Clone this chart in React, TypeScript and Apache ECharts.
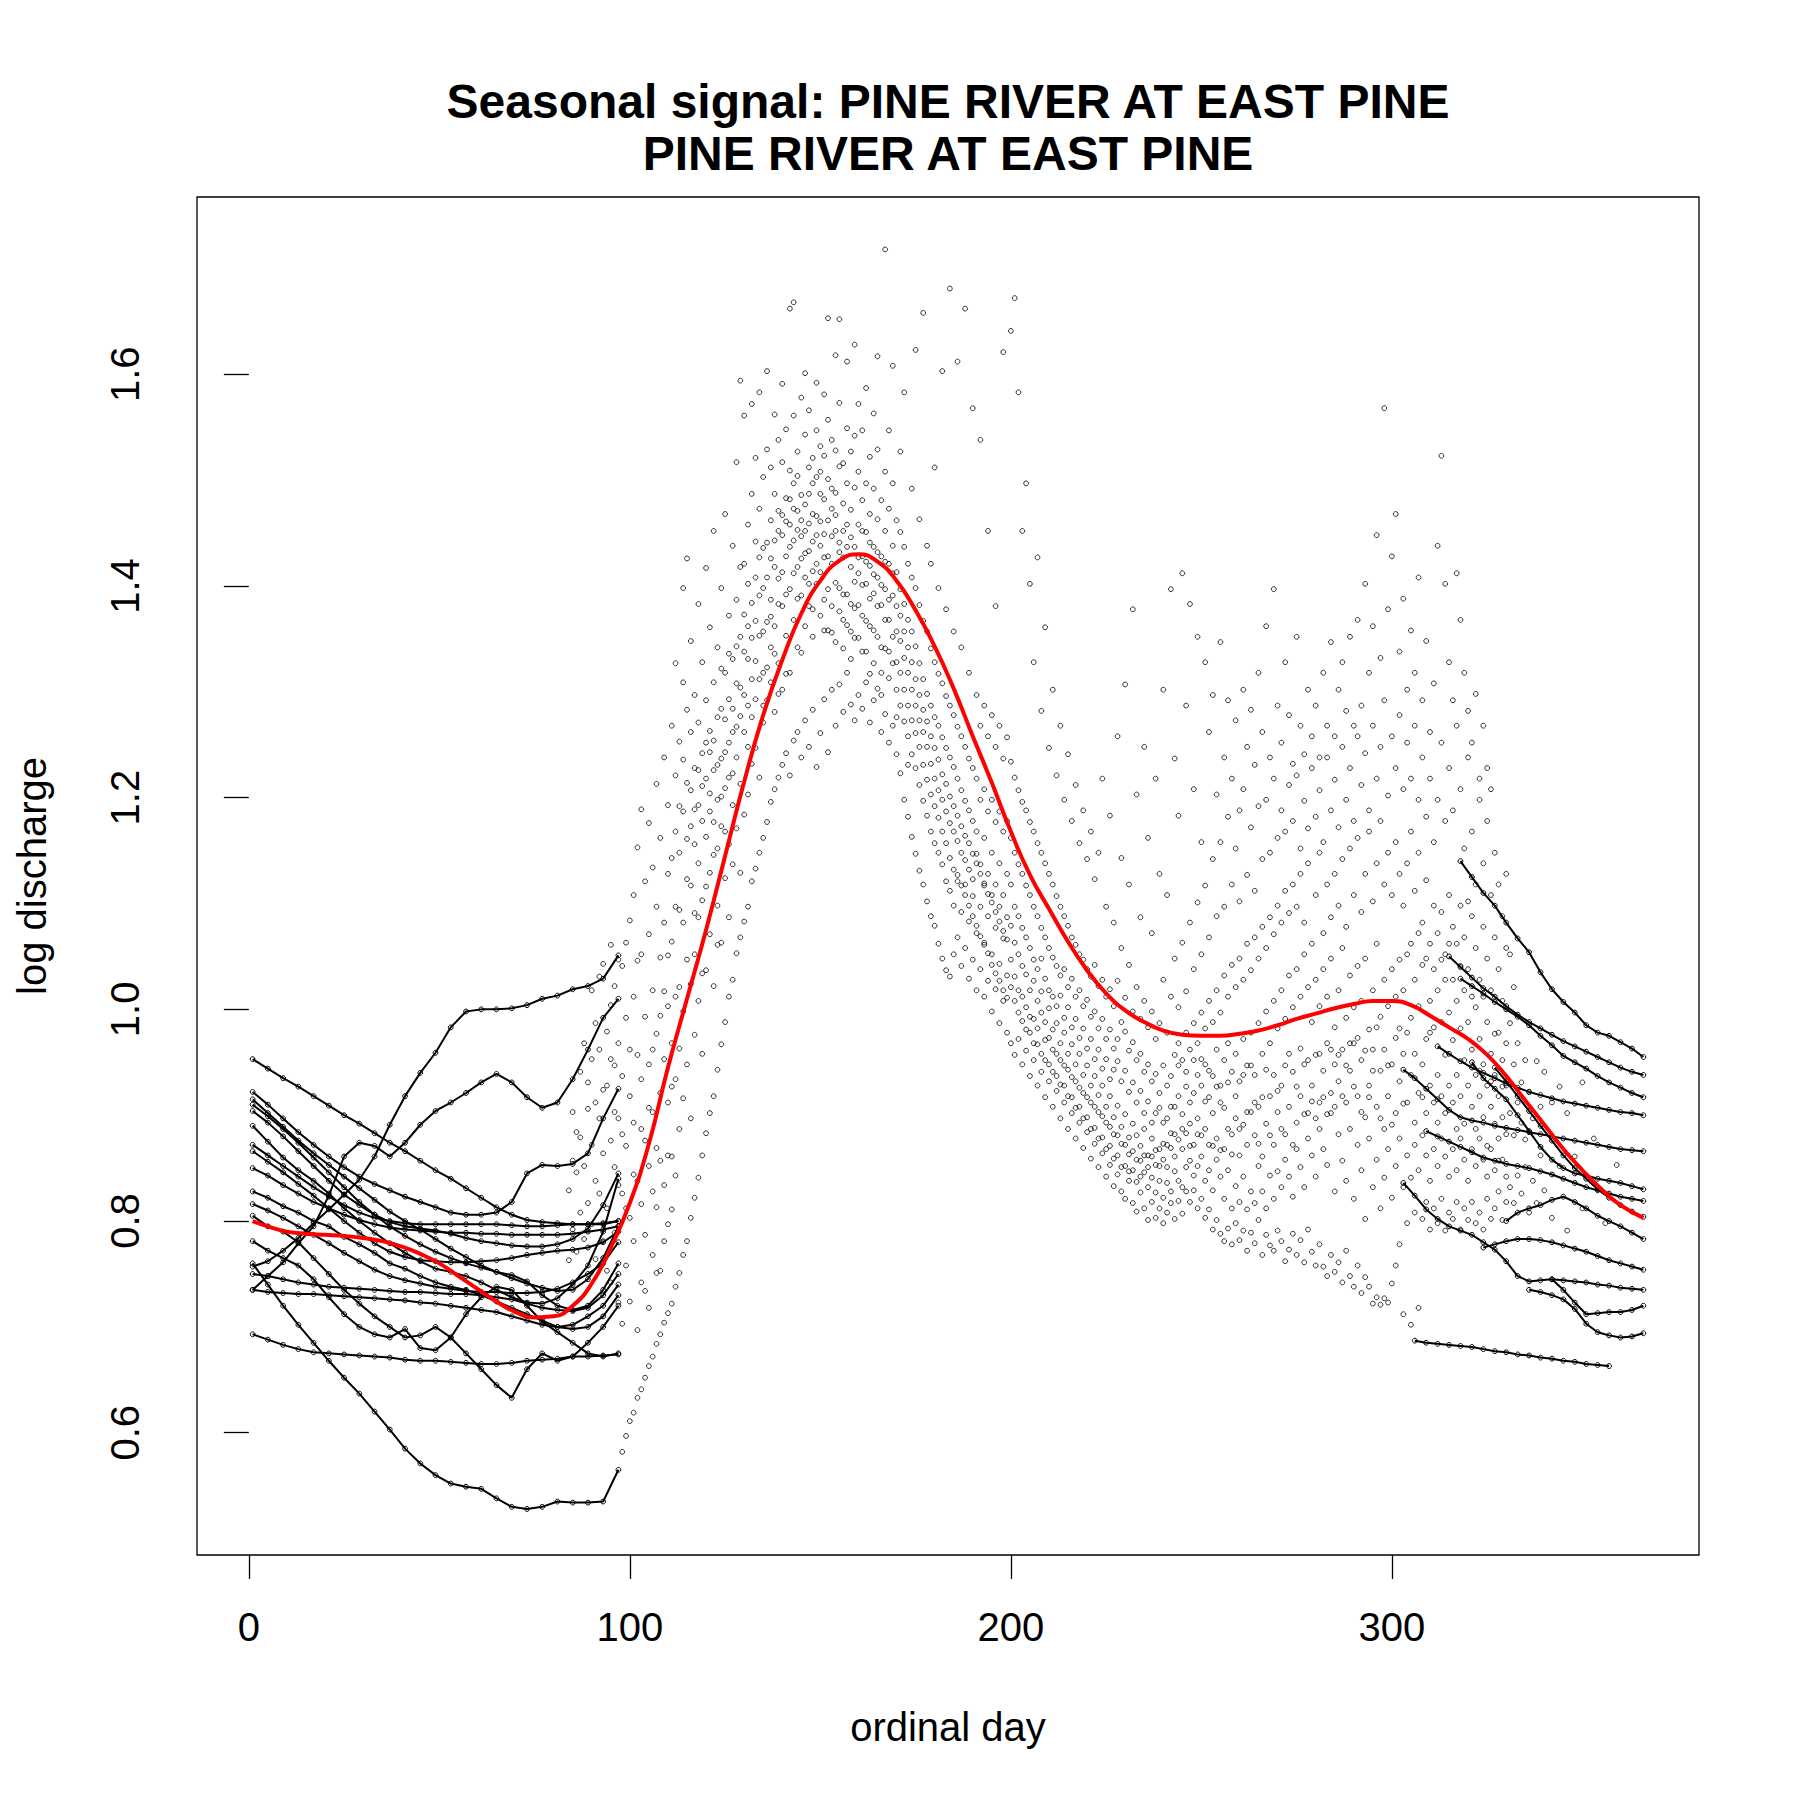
import { useEffect, useRef } from 'react';
import * as echarts from 'echarts';

const xTicks = [0, 100, 200, 300];
const yTicks = [0.6, 0.8, 1.0, 1.2, 1.4, 1.6];

// winter (low flow) traces, one per year, sampled every 4 days
const winterDays = [1, 5, 9, 13, 17, 21, 25, 29, 33, 37, 41, 45, 49, 53, 57, 61, 65, 69, 73, 77, 81, 85, 89, 93, 97];
const winterTracks: number[][] = [
  [0.953, 0.944, 0.935, 0.927, 0.918, 0.909, 0.900, 0.892, 0.883, 0.874, 0.866, 0.857, 0.848, 0.840, 0.831, 0.822, 0.813, 0.806, 0.801, 0.799, 0.798, 0.797, 0.797, 0.798, 0.800],
  [0.757, 0.762, 0.772, 0.784, 0.798, 0.811, 0.825, 0.839, 0.861, 0.891, 0.918, 0.940, 0.959, 0.983, 0.998, 1.000, 1.000, 1.001, 1.004, 1.010, 1.013, 1.019, 1.022, 1.029, 1.051],
  [0.735, 0.748, 0.761, 0.779, 0.795, 0.824, 0.861, 0.874, 0.871, 0.861, 0.874, 0.891, 0.904, 0.912, 0.921, 0.931, 0.939, 0.931, 0.917, 0.907, 0.912, 0.934, 0.962, 0.992, 1.010],
  [0.922, 0.910, 0.897, 0.884, 0.872, 0.861, 0.851, 0.842, 0.835, 0.829, 0.823, 0.818, 0.813, 0.808, 0.806, 0.806, 0.808, 0.818, 0.845, 0.853, 0.852, 0.854, 0.864, 0.897, 0.925],
  [0.915, 0.902, 0.889, 0.876, 0.864, 0.853, 0.842, 0.831, 0.820, 0.809, 0.800, 0.792, 0.783, 0.774, 0.766, 0.758, 0.752, 0.746, 0.741, 0.737, 0.734, 0.735, 0.745, 0.765, 0.795],
  [0.910, 0.899, 0.887, 0.874, 0.860, 0.846, 0.832, 0.818, 0.806, 0.795, 0.786, 0.778, 0.771, 0.765, 0.760, 0.756, 0.752, 0.749, 0.743, 0.730, 0.720, 0.716, 0.720, 0.735, 0.760],
  [0.904, 0.893, 0.880, 0.866, 0.852, 0.838, 0.825, 0.815, 0.806, 0.799, 0.795, 0.793, 0.791, 0.788, 0.784, 0.781, 0.779, 0.777, 0.776, 0.776, 0.778, 0.783, 0.793, 0.815, 0.845],
  [0.890, 0.875, 0.860, 0.848, 0.838, 0.826, 0.812, 0.800, 0.789, 0.779, 0.770, 0.762, 0.755, 0.752, 0.748, 0.742, 0.735, 0.728, 0.723, 0.722, 0.727, 0.740, 0.758, 0.790, 0.840],
  [0.872, 0.862, 0.852, 0.842, 0.832, 0.823, 0.815, 0.808, 0.803, 0.800, 0.798, 0.797, 0.797, 0.797, 0.797, 0.797, 0.797, 0.796, 0.795, 0.795, 0.796, 0.797, 0.797, 0.797, 0.800],
  [0.866, 0.856, 0.846, 0.835, 0.824, 0.812, 0.800, 0.789, 0.779, 0.771, 0.766, 0.763, 0.762, 0.761, 0.761, 0.762, 0.763, 0.765, 0.768, 0.770, 0.772, 0.773, 0.775, 0.780, 0.790],
  [0.850, 0.843, 0.834, 0.826, 0.818, 0.812, 0.806, 0.801, 0.797, 0.794, 0.792, 0.791, 0.790, 0.789, 0.789, 0.788, 0.788, 0.787, 0.787, 0.787, 0.787, 0.788, 0.790, 0.792, 0.795],
  [0.828, 0.822, 0.814, 0.808, 0.800, 0.795, 0.785, 0.778, 0.770, 0.760, 0.755, 0.748, 0.742, 0.738, 0.735, 0.730, 0.724, 0.718, 0.712, 0.706, 0.700, 0.698, 0.700, 0.710, 0.730],
  [0.816, 0.810, 0.803, 0.795, 0.787, 0.779, 0.770, 0.762, 0.754, 0.748, 0.744, 0.741, 0.738, 0.736, 0.734, 0.733, 0.733, 0.732, 0.732, 0.733, 0.736, 0.742, 0.750, 0.760, 0.780],
  [0.805, 0.795, 0.790, 0.780, 0.765, 0.750, 0.735, 0.722, 0.710, 0.700, 0.690, 0.692, 0.700, 0.690, 0.675, 0.660, 0.645, 0.633, 0.660, 0.675, 0.668, 0.672, 0.685, 0.700, 0.720],
  [0.781, 0.772, 0.765, 0.758, 0.745, 0.728, 0.712, 0.700, 0.693, 0.690, 0.698, 0.680, 0.678, 0.690, 0.712, 0.728, 0.738, 0.735, 0.720, 0.705, 0.695, 0.685, 0.675, 0.672, 0.675],
  [0.750, 0.748, 0.745, 0.742, 0.740, 0.738, 0.737, 0.736, 0.735, 0.734, 0.733, 0.733, 0.732, 0.731, 0.731, 0.730, 0.728, 0.726, 0.722, 0.718, 0.716, 0.715, 0.718, 0.730, 0.750],
  [0.735, 0.733, 0.732, 0.731, 0.731, 0.730, 0.729, 0.728, 0.727, 0.726, 0.725, 0.723, 0.722, 0.720, 0.718, 0.716, 0.714, 0.710, 0.706, 0.702, 0.700, 0.702, 0.710, 0.720, 0.740],
  [0.693, 0.688, 0.683, 0.679, 0.676, 0.675, 0.674, 0.673, 0.672, 0.671, 0.669, 0.668, 0.668, 0.667, 0.666, 0.665, 0.665, 0.666, 0.668, 0.669, 0.670, 0.672, 0.672, 0.673, 0.674],
  [0.760, 0.740, 0.720, 0.702, 0.685, 0.668, 0.652, 0.637, 0.620, 0.603, 0.585, 0.571, 0.560, 0.552, 0.549, 0.547, 0.538, 0.530, 0.528, 0.530, 0.535, 0.534, 0.534, 0.535, 0.565],
];

// autumn recession traces, sampled every 3 days (null = not yet a clean trace)
const fallDays = [300, 303, 306, 309, 312, 315, 318, 321, 324, 327, 330, 333, 336, 339, 342, 345, 348, 351, 354, 357, 360, 363, 366];
const fallTracks: (number | null)[][] = [
  [null, null, null, null, null, null, 1.14, 1.125, 1.11, 1.098, 1.082, 1.067, 1.054, 1.035, 1.019, 1.007, 0.997, 0.985, 0.978, 0.975, 0.969, 0.963, 0.955],
  [null, null, null, null, null, null, 1.029, 1.022, 1.015, 1.007, 1.000, 0.993, 0.985, 0.975, 0.966, 0.956, 0.950, 0.944, 0.937, 0.931, 0.926, 0.921, 0.917],
  [null, null, null, null, 0.965, 0.958, 0.951, 0.945, 0.940, 0.935, 0.930, 0.926, 0.922, 0.919, 0.916, 0.913, 0.911, 0.909, 0.907, 0.905, 0.903, 0.902, 0.900],
  [null, null, null, null, null, null, null, 0.950, 0.935, 0.925, 0.915, 0.900, 0.885, 0.870, 0.858, 0.850, 0.845, 0.843, 0.840, 0.838, 0.836, 0.833, 0.830],
  [null, 0.943, 0.935, 0.925, 0.915, 0.905, 0.898, 0.895, 0.893, 0.890, 0.888, 0.886, 0.884, 0.882, 0.880, 0.878, 0.876, 0.874, 0.872, 0.870, 0.868, 0.867, 0.866],
  [null, null, null, 0.885, 0.880, 0.875, 0.870, 0.865, 0.860, 0.857, 0.854, 0.852, 0.850, 0.847, 0.844, 0.840, 0.836, 0.832, 0.829, 0.826, 0.823, 0.821, 0.819],
  [null, 0.836, 0.824, 0.811, 0.802, 0.795, 0.791, 0.787, 0.780, 0.773, 0.762, 0.748, 0.743, 0.744, 0.745, 0.744, 0.743, 0.742, 0.740, 0.739, 0.737, 0.736, 0.735],
  [null, null, null, null, null, null, null, null, 0.775, 0.778, 0.781, 0.783, 0.783, 0.782, 0.780, 0.777, 0.774, 0.771, 0.767, 0.763, 0.760, 0.757, 0.754],
  [null, null, null, null, null, null, null, null, null, null, 0.800, 0.808, 0.812, 0.815, 0.820, 0.823, 0.818, 0.812, 0.805, 0.800, 0.795, 0.789, 0.783],
  [null, null, null, null, null, null, null, null, null, 0.945, 0.932, 0.918, 0.904, 0.890, 0.876, 0.862, 0.850, 0.840, 0.830, 0.822, 0.815, 0.809, 0.804],
  [null, null, null, null, null, null, null, null, null, null, null, null, 0.735, 0.733, 0.730, 0.726, 0.717, 0.703, 0.695, 0.692, 0.690, 0.691, 0.694],
  [null, null, null, null, null, null, null, null, null, null, null, null, null, null, 0.745, 0.735, 0.723, 0.712, 0.713, 0.714, 0.714, 0.716, 0.720],
  [null, null, 0.687, 0.685, 0.684, 0.683, 0.682, 0.681, 0.679, 0.677, 0.676, 0.674, 0.673, 0.671, 0.670, 0.668, 0.667, 0.665, 0.664, 0.663, null, null, null],
  [null, null, null, null, null, 1.05, 1.04, 1.03, 1.02, 1.012, 1.003, 0.995, 0.988, 0.982, 0.976, 0.970, 0.965, 0.960, 0.955, 0.950, 0.945, 0.941, 0.938],
];

// freshet / summer scatter: [day, value, value, ...]
const cloudRows: number[][] = [
  [84, 0.763, 0.829], [85, 0.792, 0.857, 0.903], [86, 0.771, 0.846, 0.884], [87, 0.808, 0.879, 0.941],
  [88, 0.783, 0.852, 0.968], [89, 0.817, 0.906, 0.931], [90, 0.797, 0.872, 0.953, 1.018], [91, 0.764, 0.838, 0.987, 0.912],
  [92, 0.826, 0.897, 0.962, 1.031], [93, 0.781, 0.864, 1.043, 0.924], [94, 0.812, 0.928, 0.979, 0.753],
  [95, 0.742, 0.876, 1.004, 1.061, 0.953], [96, 0.789, 0.851, 0.947, 1.022, 0.903], [97, 0.723, 0.834, 0.897, 1.047, 0.968],
  [98, 0.582, 0.703, 0.826, 0.937, 1.041, 0.882], [99, 0.597, 0.758, 0.871, 0.992, 1.063, 0.812],
  [100, 0.611, 0.724, 0.803, 0.918, 1.084, 0.962], [101, 0.619, 0.781, 0.893, 1.012, 1.108, 0.844],
  [102, 0.633, 0.697, 0.838, 0.957, 1.153, 1.046], [103, 0.641, 0.742, 0.816, 0.934, 1.052, 1.189, 0.887],
  [104, 0.652, 0.787, 0.876, 0.993, 1.121, 0.734], [105, 0.663, 0.718, 0.852, 0.948, 1.071, 1.176, 0.907],
  [106, 0.672, 0.768, 0.903, 1.018, 1.134, 0.828, 0.962], [107, 0.684, 0.813, 0.869, 0.977, 1.097, 1.213, 0.751],
  [108, 0.693, 0.753, 0.921, 1.049, 1.162, 0.857, 0.994], [109, 0.704, 0.834, 0.953, 1.082, 1.238, 0.781, 1.017],
  [110, 0.713, 0.797, 0.912, 1.003, 1.128, 1.193, 0.862, 1.051], [111, 0.722, 0.861, 0.968, 1.064, 1.268, 0.811, 1.143, 0.927],
  [112, 0.738, 0.843, 0.934, 1.097, 1.221, 1.327, 1.012, 1.168], [113, 0.751, 0.887, 1.021, 1.148, 1.253, 0.963, 1.094, 1.192],
  [114, 0.768, 0.916, 1.082, 1.187, 1.309, 1.398, 0.998, 1.236], [115, 0.781, 0.948, 1.047, 1.214, 1.283, 1.426, 1.123, 1.161],
  [116, 0.803, 0.897, 1.117, 1.173, 1.262, 1.348, 1.024, 1.207], [117, 0.822, 0.976, 1.091, 1.228, 1.297, 1.156, 1.052, 1.189],
  [118, 0.841, 1.008, 1.138, 1.193, 1.271, 1.383, 1.226, 1.087], [119, 0.862, 0.958, 1.103, 1.242, 1.328, 1.178, 1.211, 1.034],
  [120, 0.883, 1.037, 1.163, 1.218, 1.292, 1.417, 1.252, 1.116], [121, 0.902, 1.071, 1.129, 1.204, 1.263, 1.361, 1.187, 1.243],
  [122, 0.918, 1.022, 1.177, 1.254, 1.309, 1.452, 1.226, 1.146], [123, 0.943, 1.098, 1.152, 1.231, 1.342, 1.276, 1.198, 1.061],
  [124, 0.967, 1.063, 1.201, 1.284, 1.398, 1.237, 1.173, 1.322], [125, 0.988, 1.124, 1.168, 1.243, 1.318, 1.468, 1.274, 1.209],
  [126, 1.012, 1.087, 1.219, 1.293, 1.372, 1.156, 1.252, 1.336], [127, 1.028, 1.137, 1.193, 1.262, 1.331, 1.438, 1.284, 1.223],
  [128, 1.053, 1.171, 1.238, 1.308, 1.387, 1.517, 1.267, 1.343], [129, 1.068, 1.129, 1.213, 1.277, 1.352, 1.594, 1.304, 1.418],
  [130, 1.083, 1.184, 1.262, 1.338, 1.421, 1.561, 1.297, 1.373], [131, 1.097, 1.203, 1.287, 1.362, 1.458, 1.248, 1.331, 1.402],
  [132, 1.121, 1.232, 1.312, 1.384, 1.487, 1.572, 1.276, 1.351], [133, 1.133, 1.247, 1.329, 1.408, 1.521, 1.293, 1.367, 1.442],
  [134, 1.148, 1.219, 1.353, 1.427, 1.473, 1.583, 1.312, 1.391], [135, 1.162, 1.271, 1.318, 1.398, 1.503, 1.436, 1.357, 1.287],
  [136, 1.177, 1.292, 1.366, 1.441, 1.529, 1.603, 1.408, 1.323], [137, 1.196, 1.309, 1.387, 1.462, 1.512, 1.342, 1.426, 1.371],
  [138, 1.208, 1.281, 1.362, 1.418, 1.487, 1.562, 1.443, 1.336], [139, 1.219, 1.327, 1.407, 1.471, 1.538, 1.383, 1.452, 1.298],
  [140, 1.231, 1.302, 1.381, 1.448, 1.517, 1.591, 1.413, 1.467], [141, 1.242, 1.353, 1.428, 1.483, 1.548, 1.392, 1.461, 1.317],
  [142, 1.221, 1.318, 1.397, 1.458, 1.509, 1.662, 1.437, 1.482], [143, 1.254, 1.368, 1.443, 1.497, 1.561, 1.668, 1.412, 1.473],
  [144, 1.262, 1.342, 1.418, 1.471, 1.527, 1.388, 1.453, 1.504], [145, 1.238, 1.391, 1.447, 1.486, 1.578, 1.426, 1.462, 1.337],
  [146, 1.273, 1.362, 1.431, 1.477, 1.543, 1.601, 1.408, 1.452], [147, 1.248, 1.381, 1.459, 1.512, 1.566, 1.433, 1.487, 1.402],
  [148, 1.283, 1.352, 1.414, 1.468, 1.521, 1.442, 1.497, 1.378], [149, 1.229, 1.402, 1.448, 1.503, 1.547, 1.592, 1.466, 1.421],
  [150, 1.261, 1.372, 1.438, 1.487, 1.532, 1.413, 1.461, 1.508], [151, 1.293, 1.387, 1.427, 1.482, 1.523, 1.581, 1.449, 1.358],
  [152, 1.243, 1.358, 1.462, 1.501, 1.557, 1.653, 1.428, 1.397], [153, 1.302, 1.381, 1.421, 1.473, 1.538, 1.447, 1.492, 1.356],
  [154, 1.268, 1.347, 1.452, 1.488, 1.528, 1.618, 1.403, 1.467], [155, 1.307, 1.398, 1.441, 1.513, 1.573, 1.652, 1.432, 1.376],
  [156, 1.281, 1.368, 1.427, 1.478, 1.516, 1.452, 1.392, 1.341], [157, 1.318, 1.392, 1.458, 1.497, 1.549, 1.612, 1.437, 1.363],
  [158, 1.288, 1.357, 1.418, 1.472, 1.527, 1.383, 1.446, 1.331], [159, 1.273, 1.379, 1.437, 1.493, 1.542, 1.628, 1.404, 1.351],
  [160, 1.297, 1.351, 1.412, 1.458, 1.508, 1.572, 1.427, 1.382], [161, 1.284, 1.372, 1.428, 1.481, 1.547, 1.401, 1.338, 1.452],
  [162, 1.309, 1.338, 1.402, 1.451, 1.497, 1.587, 1.423, 1.367], [163, 1.271, 1.362, 1.419, 1.468, 1.522, 1.388, 1.441, 1.317],
  [164, 1.292, 1.327, 1.393, 1.437, 1.492, 1.563, 1.411, 1.358], [165, 1.303, 1.352, 1.408, 1.463, 1.529, 1.617, 1.381, 1.432],
  [166, 1.262, 1.318, 1.382, 1.428, 1.481, 1.342, 1.401, 1.297], [167, 1.279, 1.341, 1.397, 1.452, 1.508, 1.718, 1.368, 1.423],
  [168, 1.252, 1.313, 1.368, 1.421, 1.473, 1.547, 1.387, 1.338], [169, 1.268, 1.327, 1.391, 1.438, 1.497, 1.608, 1.352, 1.412],
  [170, 1.241, 1.302, 1.357, 1.413, 1.462, 1.328, 1.381, 1.276], [171, 1.223, 1.287, 1.348, 1.397, 1.451, 1.527, 1.318, 1.372],
  [172, 1.198, 1.272, 1.332, 1.383, 1.437, 1.583, 1.302, 1.357], [173, 1.182, 1.258, 1.318, 1.368, 1.421, 1.287, 1.342, 1.231],
  [174, 1.163, 1.241, 1.302, 1.357, 1.408, 1.492, 1.273, 1.328], [175, 1.147, 1.228, 1.287, 1.343, 1.398, 1.623, 1.261, 1.312],
  [176, 1.131, 1.212, 1.273, 1.327, 1.382, 1.463, 1.248, 1.297], [177, 1.118, 1.197, 1.262, 1.312, 1.367, 1.658, 1.231, 1.283],
  [178, 1.102, 1.183, 1.248, 1.298, 1.357, 1.438, 1.217, 1.272], [179, 1.088, 1.168, 1.232, 1.287, 1.341, 1.421, 1.203, 1.258],
  [180, 1.079, 1.157, 1.218, 1.276, 1.328, 1.512, 1.192, 1.247], [181, 1.062, 1.148, 1.207, 1.268, 1.317, 1.398, 1.181, 1.236],
  [182, 1.048, 1.137, 1.198, 1.257, 1.308, 1.603, 1.168, 1.222], [183, 1.037, 1.121, 1.187, 1.247, 1.296, 1.378, 1.157, 1.213],
  [184, 1.031, 1.112, 1.176, 1.238, 1.287, 1.681, 1.143, 1.201], [185, 1.052, 1.098, 1.168, 1.229, 1.278, 1.357, 1.132, 1.192],
  [186, 1.068, 1.127, 1.159, 1.218, 1.267, 1.612, 1.121, 1.183], [187, 1.041, 1.092, 1.148, 1.207, 1.258, 1.342, 1.117, 1.173],
  [188, 1.058, 1.118, 1.141, 1.197, 1.248, 1.662, 1.108, 1.164], [189, 1.029, 1.083, 1.132, 1.188, 1.237, 1.318, 1.098, 1.157],
  [190, 1.047, 1.107, 1.123, 1.178, 1.228, 1.568, 1.088, 1.147], [191, 1.018, 1.072, 1.147, 1.168, 1.218, 1.297, 1.079, 1.138],
  [192, 1.038, 1.097, 1.137, 1.198, 1.268, 1.538, 1.069, 1.128], [193, 1.012, 1.063, 1.117, 1.162, 1.208, 1.287, 1.061, 1.119],
  [194, 1.027, 1.088, 1.128, 1.187, 1.258, 1.452, 1.053, 1.109], [195, 0.998, 1.052, 1.108, 1.148, 1.198, 1.278, 1.042, 1.101],
  [196, 1.019, 1.077, 1.118, 1.177, 1.248, 1.381, 1.034, 1.092], [197, 0.987, 1.043, 1.097, 1.138, 1.187, 1.268, 1.027, 1.083],
  [198, 1.008, 1.067, 1.108, 1.168, 1.237, 1.621, 1.018, 1.074], [199, 0.978, 1.032, 1.087, 1.128, 1.178, 1.257, 1.011, 1.066],
  [200, 0.968, 1.021, 1.079, 1.118, 1.162, 1.234, 1.641, 1.047], [201, 0.957, 1.008, 1.063, 1.097, 1.148, 1.219, 1.672, 1.031],
  [202, 0.972, 0.997, 1.052, 1.088, 1.137, 1.207, 1.583, 1.018], [203, 0.948, 0.989, 1.041, 1.077, 1.128, 1.196, 1.452, 1.012],
  [204, 0.961, 1.002, 1.033, 1.068, 1.117, 1.188, 1.497, 0.981], [205, 0.937, 0.978, 1.018, 1.058, 1.108, 1.177, 1.402, 0.993],
  [206, 0.952, 0.991, 1.027, 1.047, 1.097, 1.168, 1.328, 0.968], [207, 0.928, 0.967, 1.008, 1.038, 1.088, 1.157, 1.427, 0.982],
  [208, 0.941, 0.958, 0.997, 1.048, 1.077, 1.148, 1.282, 1.017], [209, 0.917, 0.971, 0.988, 1.029, 1.068, 1.138, 1.361, 0.952],
  [210, 0.932, 0.948, 1.001, 1.018, 1.058, 1.128, 1.247, 0.973], [211, 0.908, 0.962, 0.981, 1.012, 1.049, 1.118, 1.302, 0.941],
  [212, 0.923, 0.937, 0.987, 1.003, 1.041, 1.107, 1.221, 0.958], [213, 0.897, 0.952, 0.968, 1.013, 1.032, 1.097, 1.268, 0.929],
  [214, 0.912, 0.928, 0.978, 0.992, 1.038, 1.088, 1.198, 0.947], [215, 0.887, 0.943, 0.958, 1.002, 1.021, 1.079, 1.241, 0.918],
  [216, 0.902, 0.917, 0.967, 0.983, 1.029, 1.068, 1.178, 0.936], [217, 0.878, 0.932, 0.948, 0.991, 1.012, 1.061, 1.212, 0.907],
  [218, 0.893, 0.908, 0.958, 0.973, 1.018, 1.052, 1.157, 0.926], [219, 0.869, 0.921, 0.938, 0.982, 1.003, 1.047, 1.188, 0.897],
  [220, 0.884, 0.898, 0.947, 0.963, 1.009, 1.038, 1.142, 0.917], [221, 0.859, 0.912, 0.928, 0.972, 0.993, 1.031, 1.168, 0.887],
  [222, 0.873, 0.888, 0.937, 0.953, 0.998, 1.042, 1.123, 0.908], [223, 0.851, 0.903, 0.919, 0.962, 0.982, 1.022, 1.148, 0.878],
  [224, 0.864, 0.879, 0.928, 0.944, 0.991, 1.028, 1.218, 0.899], [225, 0.842, 0.893, 0.908, 0.953, 0.972, 1.012, 1.097, 0.868],
  [226, 0.853, 0.871, 0.918, 0.934, 0.981, 1.019, 1.183, 0.889], [227, 0.833, 0.882, 0.898, 0.943, 0.963, 1.003, 1.082, 0.859],
  [228, 0.844, 0.862, 0.909, 0.951, 0.972, 1.027, 1.258, 0.881], [229, 0.828, 0.873, 0.889, 0.932, 0.988, 1.058, 1.143, 0.851],
  [230, 0.821, 0.852, 0.901, 0.942, 0.979, 1.011, 1.307, 0.872], [231, 0.838, 0.863, 0.879, 0.922, 0.961, 1.042, 1.118, 0.847],
  [232, 0.817, 0.848, 0.892, 0.931, 0.969, 0.998, 1.378, 0.866], [233, 0.809, 0.837, 0.881, 0.912, 0.952, 1.021, 1.203, 0.858],
  [234, 0.827, 0.857, 0.871, 0.923, 0.958, 0.991, 1.087, 0.842], [235, 0.812, 0.846, 0.887, 0.902, 0.941, 1.008, 1.248, 0.862],
  [236, 0.801, 0.832, 0.862, 0.913, 0.948, 0.983, 1.162, 0.851], [237, 0.818, 0.841, 0.878, 0.893, 0.932, 0.998, 1.072, 0.861],
  [238, 0.803, 0.827, 0.853, 0.902, 0.939, 0.972, 1.218, 0.867], [239, 0.812, 0.838, 0.868, 0.907, 0.921, 0.987, 1.128, 0.852],
  [240, 0.798, 0.822, 0.858, 0.893, 0.947, 1.028, 1.302, 0.873], [241, 0.808, 0.836, 0.851, 0.897, 0.928, 0.978, 1.108, 0.872],
  [242, 0.817, 0.828, 0.869, 0.883, 0.937, 1.012, 1.397, 0.908], [243, 0.802, 0.847, 0.861, 0.908, 0.957, 1.048, 1.237, 0.882],
  [244, 0.819, 0.838, 0.877, 0.918, 0.968, 1.002, 1.183, 0.947], [245, 0.807, 0.832, 0.868, 0.901, 0.952, 1.063, 1.412, 0.887],
  [246, 0.828, 0.851, 0.883, 0.927, 0.978, 1.017, 1.287, 0.941], [247, 0.818, 0.857, 0.892, 0.912, 0.962, 1.082, 1.383, 0.871],
  [248, 0.829, 0.843, 0.872, 0.921, 0.987, 1.038, 1.208, 0.952], [249, 0.812, 0.852, 0.897, 0.938, 0.968, 1.101, 1.352, 0.882],
  [250, 0.821, 0.861, 0.881, 0.928, 0.997, 1.052, 1.158, 0.953], [251, 0.803, 0.838, 0.887, 0.948, 0.982, 1.117, 1.328, 0.913],
  [252, 0.811, 0.848, 0.872, 0.917, 1.008, 1.068, 1.262, 0.942], [253, 0.792, 0.829, 0.902, 0.937, 0.988, 1.142, 1.297, 0.871],
  [254, 0.801, 0.858, 0.878, 0.962, 1.018, 1.088, 1.203, 0.927], [255, 0.788, 0.842, 0.912, 0.928, 0.997, 1.158, 1.347, 0.867],
  [256, 0.781, 0.821, 0.868, 0.952, 1.032, 1.097, 1.238, 0.907], [257, 0.793, 0.848, 0.887, 0.968, 1.012, 1.182, 1.292, 0.931],
  [258, 0.778, 0.812, 0.882, 0.941, 1.042, 1.118, 1.218, 0.863], [259, 0.798, 0.833, 0.897, 0.958, 1.021, 1.152, 1.273, 0.918],
  [260, 0.782, 0.818, 0.862, 0.932, 1.048, 1.102, 1.188, 0.887], [261, 0.791, 0.842, 0.891, 0.972, 1.028, 1.208, 1.302, 0.938],
  [262, 0.772, 0.811, 0.872, 0.947, 1.062, 1.127, 1.248, 0.903], [263, 0.789, 0.828, 0.903, 0.978, 1.037, 1.172, 1.283, 0.947],
  [264, 0.779, 0.817, 0.881, 0.938, 1.068, 1.112, 1.231, 0.912], [265, 0.801, 0.852, 0.908, 0.987, 1.048, 1.192, 1.318, 0.873],
  [266, 0.768, 0.828, 0.861, 0.958, 1.078, 1.142, 1.262, 0.917], [267, 0.787, 0.812, 0.892, 0.998, 1.058, 1.198, 1.362, 0.943],
  [268, 0.777, 0.843, 0.918, 0.968, 1.087, 1.148, 1.238, 0.881], [269, 0.772, 0.821, 0.872, 1.008, 1.071, 1.218, 1.397, 0.938],
  [270, 0.791, 0.847, 0.903, 0.982, 1.098, 1.162, 1.287, 0.923], [271, 0.781, 0.832, 0.928, 1.018, 1.082, 1.188, 1.252, 0.887],
  [272, 0.762, 0.858, 0.882, 0.991, 1.112, 1.168, 1.328, 0.947], [273, 0.773, 0.842, 0.908, 1.032, 1.091, 1.212, 1.278, 0.958],
  [274, 0.788, 0.823, 0.941, 1.002, 1.118, 1.178, 1.232, 0.872], [275, 0.768, 0.868, 0.893, 1.038, 1.097, 1.221, 1.352, 0.927],
  [276, 0.782, 0.851, 0.918, 1.012, 1.128, 1.152, 1.268, 0.963], [277, 0.761, 0.832, 0.948, 1.052, 1.082, 1.197, 1.241, 0.901],
  [278, 0.792, 0.878, 0.902, 1.021, 1.138, 1.171, 1.302, 0.952], [279, 0.771, 0.862, 0.928, 0.988, 1.062, 1.228, 1.258, 0.913],
  [280, 0.758, 0.842, 0.957, 1.028, 1.108, 1.182, 1.287, 0.897], [281, 0.778, 0.887, 0.912, 1.003, 1.148, 1.207, 1.238, 0.958],
  [282, 0.757, 0.868, 0.942, 1.038, 1.072, 1.158, 1.318, 0.917], [283, 0.748, 0.853, 0.968, 1.012, 1.118, 1.238, 1.268, 0.901],
  [284, 0.768, 0.902, 0.921, 1.048, 1.087, 1.188, 1.347, 0.962], [285, 0.752, 0.828, 0.948, 0.983, 1.128, 1.217, 1.258, 0.908],
  [286, 0.761, 0.882, 0.932, 1.018, 1.098, 1.172, 1.302, 0.957], [287, 0.742, 0.857, 0.962, 1.058, 1.142, 1.248, 1.328, 0.918],
  [288, 0.772, 0.838, 0.912, 0.992, 1.078, 1.198, 1.282, 0.947], [289, 0.748, 0.887, 0.942, 1.032, 1.152, 1.228, 1.352, 0.968],
  [290, 0.738, 0.821, 0.968, 1.002, 1.108, 1.178, 1.268, 0.927], [291, 0.758, 0.872, 0.918, 1.041, 1.162, 1.258, 1.368, 0.973],
  [292, 0.732, 0.848, 0.952, 1.008, 1.092, 1.212, 1.287, 0.903], [293, 0.747, 0.802, 0.898, 1.048, 1.128, 1.242, 1.402, 0.961],
  [294, 0.738, 0.878, 0.928, 0.981, 1.168, 1.188, 1.318, 0.917], [295, 0.722, 0.832, 0.962, 1.018, 1.102, 1.268, 1.362, 0.942],
  [296, 0.728, 0.858, 0.908, 1.062, 1.138, 1.218, 1.448, 0.983], [297, 0.721, 0.812, 0.942, 0.993, 1.178, 1.248, 1.332, 0.897],
  [298, 0.727, 0.841, 0.887, 1.028, 1.118, 1.292, 1.568, 0.962], [299, 0.723, 0.868, 0.918, 1.003, 1.148, 1.202, 1.378, 0.947],
  [300, 0.741, 0.822, 0.948, 1.038, 1.108, 1.258, 1.428, 0.891], [301, 0.758, 0.852, 0.902, 1.012, 1.158, 1.228, 1.468, 0.973],
  [302, 0.778, 0.878, 0.932, 0.982, 1.128, 1.278, 1.338, 1.047], [303, 0.712, 0.832, 0.958, 1.018, 1.098, 1.208, 1.388, 0.911],
  [304, 0.798, 0.862, 0.912, 1.052, 1.138, 1.252, 1.302, 0.978], [305, 0.702, 0.841, 0.938, 0.992, 1.168, 1.218, 1.358, 1.062],
  [306, 0.808, 0.872, 0.893, 1.028, 1.112, 1.268, 1.318, 0.958], [307, 0.718, 0.848, 0.921, 1.003, 1.148, 1.198, 1.408, 1.072],
  [308, 0.802, 0.881, 0.948, 1.042, 1.082, 1.238, 1.292, 0.917], [309, 0.818, 0.862, 0.902, 0.972, 1.122, 1.182, 1.348, 1.048],
  [310, 0.792, 0.838, 0.928, 1.008, 1.062, 1.218, 1.262, 0.978], [311, 0.812, 0.868, 0.912, 0.983, 1.098, 1.158, 1.308, 1.038],
  [312, 0.798, 0.852, 0.938, 1.018, 1.072, 1.198, 1.438, 0.893], [313, 0.821, 0.878, 0.918, 0.988, 1.092, 1.252, 1.523, 1.047],
  [314, 0.791, 0.861, 0.902, 1.028, 1.052, 1.178, 1.402, 0.957], [315, 0.808, 0.842, 0.928, 0.997, 1.108, 1.228, 1.328, 1.062],
  [316, 0.802, 0.868, 0.912, 0.971, 1.078, 1.188, 1.292, 1.028], [317, 0.818, 0.848, 0.938, 1.008, 1.062, 1.268, 1.412, 0.887],
  [318, 0.792, 0.878, 0.918, 0.982, 1.098, 1.208, 1.368, 1.041], [319, 0.812, 0.858, 0.892, 1.018, 1.068, 1.152, 1.318, 0.952],
  [320, 0.801, 0.838, 0.928, 0.988, 1.038, 1.238, 1.282, 1.102], [321, 0.818, 0.868, 0.908, 0.962, 1.088, 1.168, 1.252, 1.012],
  [322, 0.798, 0.852, 0.938, 1.002, 1.058, 1.118, 1.298, 0.887], [323, 0.808, 0.878, 0.918, 0.972, 1.028, 1.198, 1.218, 0.942],
  [324, 0.792, 0.858, 0.898, 0.948, 1.078, 1.138, 1.268, 1.012], [325, 0.821, 0.842, 0.928, 0.988, 1.048, 1.178, 1.228, 0.871],
  [326, 0.802, 0.868, 0.908, 0.958, 1.018, 1.108, 1.208, 0.932], [327, 0.812, 0.848, 0.892, 0.938, 1.068, 1.148, 0.977],
  [328, 0.828, 0.878, 0.918, 0.978, 1.038, 1.118, 0.857], [329, 0.801, 0.858, 0.898, 0.952, 1.008, 1.088, 0.927],
  [330, 0.818, 0.842, 0.928, 0.968, 1.058, 1.128, 0.882], [331, 0.832, 0.902, 0.987, 1.052], [332, 0.817, 0.881, 0.948, 1.021],
  [333, 0.843, 0.912, 0.968], [334, 0.826, 0.893, 0.931], [335, 0.851, 0.877, 0.952], [336, 0.808, 0.922],
  [337, 0.838, 0.897], [338, 0.817, 0.951], [339, 0.862, 0.908], [340, 0.829, 0.941], [342, 0.803, 0.912],
  [344, 0.852, 0.927], [346, 0.791, 0.902], [348, 0.861], [350, 0.812, 0.931], [353, 0.878], [356, 0.798], [359, 0.853],
];

// loess seasonal signal
const smoothDays = [1, 5, 10, 15, 20, 25, 30, 35, 40, 45, 50, 55, 60, 65, 70, 75, 80, 85, 90, 95, 100, 105, 110, 115, 120, 125, 130, 135, 140, 145, 150, 155, 160, 165, 170, 175, 180, 185, 190, 195, 200, 205, 210, 215, 220, 225, 230, 235, 240, 245, 250, 255, 260, 265, 270, 275, 280, 285, 290, 295, 300, 305, 310, 315, 320, 325, 330, 335, 340, 345, 350, 355, 360, 366];
const smoothValues = [0.800, 0.795, 0.790, 0.788, 0.787, 0.786, 0.784, 0.781, 0.776, 0.769, 0.760, 0.748, 0.736, 0.724, 0.714, 0.709, 0.710, 0.720, 0.741, 0.775, 0.817, 0.873, 0.945, 1.010, 1.075, 1.145, 1.215, 1.278, 1.330, 1.374, 1.405, 1.424, 1.430, 1.423, 1.405, 1.377, 1.343, 1.303, 1.258, 1.214, 1.168, 1.127, 1.095, 1.064, 1.037, 1.015, 0.999, 0.988, 0.980, 0.976, 0.975, 0.975, 0.977, 0.980, 0.985, 0.991, 0.996, 1.001, 1.005, 1.008, 1.008, 1.004, 0.994, 0.983, 0.972, 0.957, 0.937, 0.914, 0.891, 0.868, 0.848, 0.830, 0.815, 0.803];

const FONT = '"Liberation Sans", Arial, Helvetica, sans-serif';

export default function App() {
  const chartRef = useRef<HTMLDivElement>(null);

  useEffect(() => {
    if (!chartRef.current) return;
    const chart = echarts.init(chartRef.current, null, { renderer: 'svg' });

    const hollow = { color: 'rgba(0,0,0,0)', borderColor: '#000', borderWidth: 1 };

    const trackSeries = (days: number[], vals: (number | null)[]) => ({
      type: 'line',
      data: days.map((d, i) => [d, vals[i]]).filter((p) => p[1] != null),
      symbol: 'circle',
      symbolSize: 4.8,
      showSymbol: true,
      lineStyle: { color: '#000', width: 2 },
      itemStyle: hollow,
      silent: true,
      z: 2,
    });

    const cloudData = cloudRows.flatMap(([d, ...vs]) => vs.map((v) => [d, v]));

    const titleStyle = (text: string) => ({
      text,
      fontSize: 48,
      fontWeight: 'bold',
      fontFamily: FONT,
      fill: '#000',
      textAlign: 'center',
      textVerticalAlign: 'middle',
      align: 'center',
      verticalAlign: 'middle',
    });

    chart.setOption({
      animation: false,
      backgroundColor: '#fff',
      textStyle: { fontFamily: FONT },
      grid: {
        left: 197,
        top: 197,
        width: 1502,
        height: 1358,
        show: true,
        borderColor: '#000',
        borderWidth: 1.3,
      },
      xAxis: {
        type: 'value',
        min: -13.6,
        max: 380.6,
        splitLine: { show: false },
        axisLine: { show: false },
        axisTick: { show: true, length: 24, customValues: xTicks, lineStyle: { color: '#000', width: 1.3 } },
        axisLabel: { customValues: xTicks, fontSize: 40, color: '#000', fontFamily: FONT, margin: 52 },
        name: 'ordinal day',
        nameLocation: 'middle',
        nameGap: 152,
        nameTextStyle: { fontSize: 40, color: '#000', fontFamily: FONT },
      },
      yAxis: {
        type: 'value',
        min: 0.4845,
        max: 1.7675,
        splitLine: { show: false },
        axisLine: { show: false },
        axisTick: { show: true, length: 25, customValues: yTicks, lineStyle: { color: '#000', width: 1.3 } },
        axisLabel: {
          customValues: yTicks,
          rotate: 90,
          fontSize: 40,
          color: '#000',
          fontFamily: FONT,
          margin: 52,
          formatter: (v: number) => v.toFixed(1),
        },
        name: 'log discharge',
        nameLocation: 'middle',
        nameRotate: 90,
        nameGap: 145,
        nameTextStyle: { fontSize: 40, color: '#000', fontFamily: FONT },
      },
      graphic: [
        { type: 'text', x: 948, y: 101, style: titleStyle('Seasonal signal: PINE RIVER AT EAST PINE') },
        { type: 'text', x: 948, y: 153, style: titleStyle('PINE RIVER AT EAST PINE') },
      ],
      series: [
        {
          type: 'scatter',
          data: cloudData,
          symbol: 'circle',
          symbolSize: 4.8,
          itemStyle: hollow,
          silent: true,
          z: 2,
        },
        ...winterTracks.map((t) => trackSeries(winterDays, t)),
        ...fallTracks.map((t) => trackSeries(fallDays, t)),
        {
          type: 'line',
          data: smoothDays.map((d, i) => [d, smoothValues[i]]),
          smooth: true,
          showSymbol: false,
          lineStyle: { color: '#ff0000', width: 4 },
          silent: true,
          z: 5,
        },
      ],
    });

    return () => chart.dispose();
  }, []);

  return (
    <div
      ref={chartRef}
      style={{ position: 'absolute', left: 0, top: 0, width: 1800, height: 1800, background: '#fff' }}
    />
  );
}
